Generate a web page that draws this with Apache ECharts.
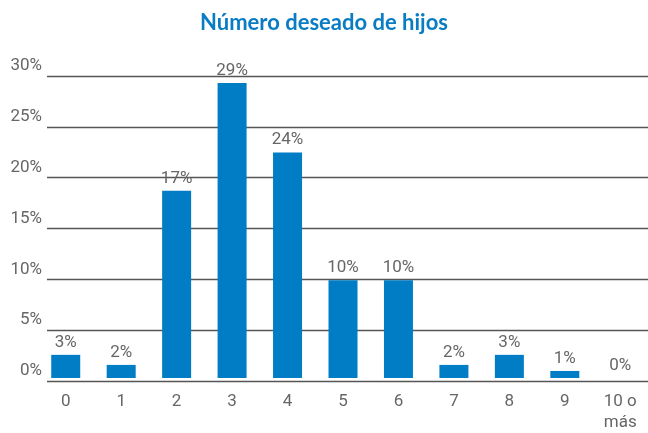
<!DOCTYPE html>
<html>
<head>
<meta charset="utf-8">
<script src="https://cdn.jsdelivr.net/npm/echarts@6/dist/echarts.min.js"></script>
<style>
  html, body { margin: 0; padding: 0; background: #fff; }
</style>
</head>
<body>
<div id="chart" style="width: 648px; height: 433px"></div>
<script>
const categories = ["0", "1", "2", "3", "4", "5", "6", "7", "8", "9", "10 o\nmás"];
// bar heights as drawn (percent)
const values = [2.3, 1.3, 18.6, 29.3, 22.4, 9.7, 9.7, 1.3, 2.3, 0.7, 0];
// printed labels above the bars
const labels = ["3%", "2%", "17%", "29%", "24%", "10%", "10%", "2%", "3%", "1%", "0%"];

const FONT = "'Roboto', sans-serif";
const TEXT_GRAY = "#666";

const myChart = echarts.init(document.getElementById("chart"));
myChart.setOption({
  animation: false,
  title: {
    text: "Número deseado de hijos",
    left: "center",
    top: 7,
    textStyle: {
      color: "#0a7cc4",
      fontSize: 22,
      fontWeight: "bold",
      fontFamily: "Lato, sans-serif"
    }
  },
  // grid 0: gridlines + y labels, grid 1: bars + category labels
  grid: [
    { left: 47, right: 0, top: 76, bottom: 52 },
    { left: 38, right: 0, top: 76, bottom: 52 }
  ],
  xAxis: [
    {
      type: "category",
      gridIndex: 0,
      data: categories,
      show: false
    },
    {
      type: "category",
      gridIndex: 1,
      data: categories,
      axisTick: { show: false },
      axisLine: { show: false },
      axisLabel: {
        color: TEXT_GRAY,
        fontSize: 17,
        fontFamily: FONT,
        margin: 13,
        lineHeight: 21,
        interval: 0
      }
    }
  ],
  yAxis: [
    {
      type: "value",
      gridIndex: 0,
      min: 0,
      max: 30,
      interval: 5,
      axisLine: { show: false },
      axisTick: { show: false },
      axisLabel: {
        formatter: "{value}%",
        color: TEXT_GRAY,
        fontSize: 17,
        fontFamily: FONT,
        margin: 5,
        verticalAlign: "bottom",
        lineHeight: 20
      },
      splitLine: { lineStyle: { color: "#555", width: 1.3 } }
    },
    {
      type: "value",
      gridIndex: 1,
      min: 0,
      max: 30,
      interval: 5,
      show: false,
      splitLine: { show: false }
    }
  ],
  series: [
    {
      type: "bar",
      xAxisIndex: 1,
      yAxisIndex: 1,
      data: values,
      barWidth: 29,
      itemStyle: { color: "#007dc5" },
      label: {
        show: true,
        position: "top",
        distance: 4,
        color: TEXT_GRAY,
        fontSize: 17,
        fontFamily: FONT,
        formatter: function (p) { return labels[p.dataIndex]; }
      }
    }
  ]
});
</script>
</body>
</html>
